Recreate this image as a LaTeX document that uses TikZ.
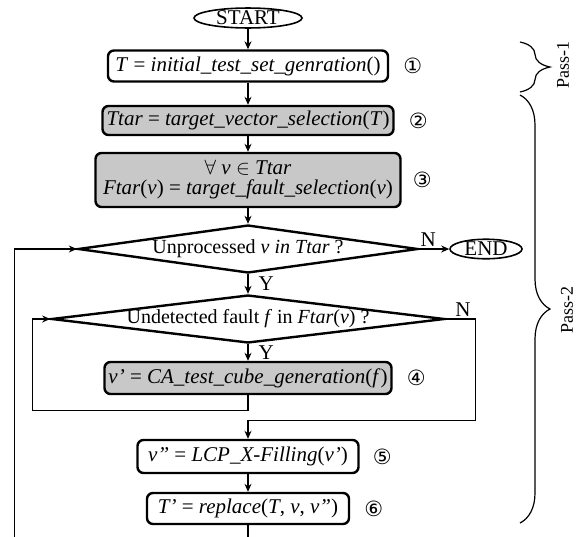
\documentclass[tikz,border=0pt]{standalone}
\usepackage{fontspec}
\setmainfont{Liberation Serif}
\newfontfamily\circfont{DejaVu Sans}
\usepackage{tikz}
\usetikzlibrary{arrows.meta}
\usetikzlibrary{shapes.geometric}
\usetikzlibrary{positioning}
\usetikzlibrary{decorations.pathreplacing}
\definecolor{boxgray}{RGB}{200,200,200}
\tikzset{
  % arrow tips of the flow
  >={Stealth[length=8pt,width=7pt]},
  line/.style={draw, line width=1.2pt, ->},
  lbl/.style={inner sep=2pt}
}

\begin{document}
\begin{tikzpicture}[x=1pt, y=-1pt, font=\fontsize{21}{23}\selectfont]
    % Define styles
    \tikzstyle{terminal} = [ellipse, draw, line width=1.6pt, inner sep=0pt, minimum height=18pt]
    \tikzstyle{process} = [rectangle, draw, line width=2.4pt, rounded corners=6pt, minimum height=31pt, inner xsep=3pt, inner ysep=2pt]
    \tikzstyle{shaded} = [process, fill=boxgray]
    \tikzstyle{decision} = [diamond, draw, line width=2.4pt, inner sep=0pt, minimum height=48pt, font=\fontsize{20}{22}\selectfont]
    \tikzstyle{num} = [font=\circfont\fontsize{21}{21}\selectfont, inner sep=0pt]
    \tikzstyle{passbrace} = [decorate, decoration={brace, amplitude=30pt}, line width=1.2pt]

    \useasboundingbox (0,0) rectangle (580,536);
    \clip (0,0) rectangle (580,536);

    % Place nodes - main flow
    \node [terminal, minimum width=108pt] (start) at (248,18) {START};
    \node [process, below of=start, node distance=48pt, minimum width=280pt] (init) {\textit{T} = \textit{initial\_test\_set\_genration}()};
    \node [shaded, below of=init, node distance=54.5pt, minimum width=291pt, minimum height=29pt] (tvsel) {\textit{Ttar} = \textit{target\_vector\_selection}(\textit{T})};
    \node [shaded, below of=tvsel, node distance=59.5pt, minimum width=305pt, minimum height=54pt, align=center] (tfsel) {$\forall$ \textit{v} $\in$ \textit{Ttar}\\[-3pt] \textit{Ftar}(\textit{v}) = \textit{target\_fault\_selection}(\textit{v})};
    \node [decision, below of=tfsel, node distance=69pt, minimum width=340pt, aspect=7] (unproc) {Unprocessed \textit{v in Ttar} ?};
    \node [terminal, right of=unproc, node distance=238pt, minimum width=72pt, minimum height=17pt] (end) {END};
    \node [decision, below of=unproc, node distance=70pt, minimum width=393pt, aspect=8.2] (undet) {Undetected fault \textit{f} in \textit{Ftar}(\textit{v}) ?};
    \node [shaded, below of=undet, node distance=59pt, minimum width=287pt, minimum height=32pt] (cube) {\textit{v'} = \textit{CA\_test\_cube\_generation}(\textit{f})};
    \node [process, below of=cube, node distance=78.5pt, minimum width=221pt, minimum height=33pt] (fill) {\textit{v''} = \textit{LCP\_X-Filling}(\textit{v'})};
    \node [process, below of=fill, node distance=52pt, minimum width=202pt] (repl) {\textit{T'} = \textit{replace}(\textit{T}, \textit{v}, \textit{v''})};

    % Place nodes - step numbers
    \node [num, right=14pt of init] (n1) {①};
    \node [num, right=14pt of tvsel] (n2) {②};
    \node [num, right=11pt of tfsel] (n3) {③};
    \node [num, right=14pt of cube] (n4) {④};
    \node [num, right=13pt of fill] (n5) {⑤};
    \node [num, right=14pt of repl] (n6) {⑥};

    % Draw edges
    \path [line] (start) -- (init);
    \path [line] (init) -- (tvsel);
    \path [line] (tvsel) -- (tfsel);
    \path [line] (tfsel) -- (unproc);
    \path [line] (unproc) -- node [right, inner sep=0pt, xshift=10pt] {Y} (undet);
    \path [line] (undet) -- node [right, inner sep=0pt, xshift=10pt] {Y} (cube);
    \path [line] (unproc) -- node [lbl, above, pos=0.3] {N} (end);
    \path [line] (fill) -- (repl);

    % Loops
    \path [line] (cube.south) -- ++(0,15) -| ([xshift=-18pt]undet.west) -- (undet.west);
    \path [line] (undet.east) -- node [lbl, above, pos=0.57] {N} ++(30,0) |- ([yshift=18pt]fill.north) -- (fill.north);
    \path [line] (repl.south) -- ++(0,30) -| ([xshift=-62pt]unproc.west) -- (unproc.west);

    % Passes
    \draw [passbrace] (520,42) -- (520,92);
    \draw [passbrace] (520,95) -- (520,523);
    \node [rotate=90, font=\fontsize{18}{20}\selectfont] (pass1) at (563,65) {Pass-1};
    \node [rotate=90, font=\fontsize{18}{20}\selectfont] (pass2) at (567,310) {Pass-2};
\end{tikzpicture}
\end{document}
